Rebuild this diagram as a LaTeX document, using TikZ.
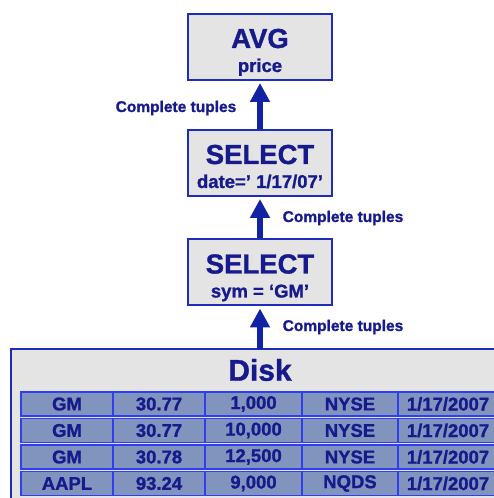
\documentclass[tikz,border=0pt]{standalone}
\usepackage{fontspec}
\setmainfont{Liberation Sans}[BoldFeatures={FakeBold=1.2}]
\usepackage{xcolor}
\usetikzlibrary{arrows.meta, positioning}
\definecolor{InkNavy}{RGB}{22,26,140}
\definecolor{EdgeBlue}{RGB}{30,45,185}
\definecolor{ArrowBlue}{RGB}{18,34,165}
\definecolor{BoxGray}{RGB}{228,228,228}
\definecolor{CellSteel}{RGB}{128,148,190}
\definecolor{CellBlue}{RGB}{48,62,238}
\newcommand{\opname}{\fontsize{27.5}{24}\selectfont}

\begin{document}
\begin{tikzpicture}[
  x=1pt, y=1pt,
  font=\bfseries, text=InkNavy,
  opbox/.style={rectangle, draw=EdgeBlue, line width=2pt, fill=BoxGray,
                minimum width=144pt, minimum height=66pt, inner sep=0pt,
                align=center, font=\bfseries\fontsize{18.5}{24}\selectfont,
                text height=50pt, text depth=0pt},
  diskbox/.style={rectangle, draw=EdgeBlue, line width=2pt, fill=BoxGray,
                  minimum width=498pt, minimum height=156pt, inner sep=0pt},
  cell/.style={rectangle, draw=CellBlue, line width=1.5pt, fill=CellSteel,
               minimum height=24pt, inner sep=0pt,
               font=\bfseries\fontsize{18.5}{20}\selectfont},
  flowlabel/.style={font=\bfseries\fontsize{15.5}{17}\selectfont, inner sep=0pt},
  arrow/.style={-{Triangle[width=19pt, length=19pt]}, ArrowBlue,
                line width=6pt, shorten >=2pt}
]
\useasboundingbox (0,0) rectangle (494,498);
\fill[white] (0,0) rectangle (494,498);

% Disk with its rows
\node[diskbox] (disk) at (260,71) {};
\node[font=\bfseries\fontsize{30}{30}\selectfont, inner sep=0pt] (disktitle) at (260,128) {Disk};
\coordinate (disktop) at (260,149);
\foreach \sym/\price/\vol/\exch [count=\r] in
  {GM/30.77/{1,000}/NYSE, GM/30.77/{10,000}/NYSE,
   GM/30.78/{12,500}/NYSE, AAPL/93.24/{9,000}/NQDS} {
  \pgfmathsetmacro{\rowy}{94-26.5*(\r-1)}
  \node[cell, minimum width=92pt]  (sym-\r)   at (67,\rowy)    {\sym};
  \node[cell, minimum width=92pt]  (price-\r) at (159,\rowy)   {\price};
  \node[cell, minimum width=97pt]  (vol-\r)   at (253.5,\rowy) {\vol};
  \node[cell, minimum width=96pt]  (exch-\r)  at (350,\rowy)   {\exch};
  \node[cell, minimum width=100pt] (day-\r)   at (448,\rowy)   {1/17/2007};
}

% Operators
\node[opbox] (selsym)  at (260,225.5) {{\opname SELECT}\\sym = ‘GM’};
\node[opbox] (seldate) at (260,335)   {{\opname SELECT}\\date=’ 1/17/07’};
\node[opbox] (avg)     at (260,451)   {{\opname AVG}\\price};

% Arrows
\draw[arrow] (disktop) -- (selsym.south);
\draw[arrow] (selsym.north) -- (seldate.south);
\draw[arrow] (seldate.north) -- (avg.south);

% Labels
\node[flowlabel] (lab-disk) at (343,171) {Complete tuples};
\node[flowlabel] (lab-sym)  at (343,280) {Complete tuples};
\node[flowlabel] (lab-date) at (176,390) {Complete tuples};

\end{tikzpicture}
\end{document}
